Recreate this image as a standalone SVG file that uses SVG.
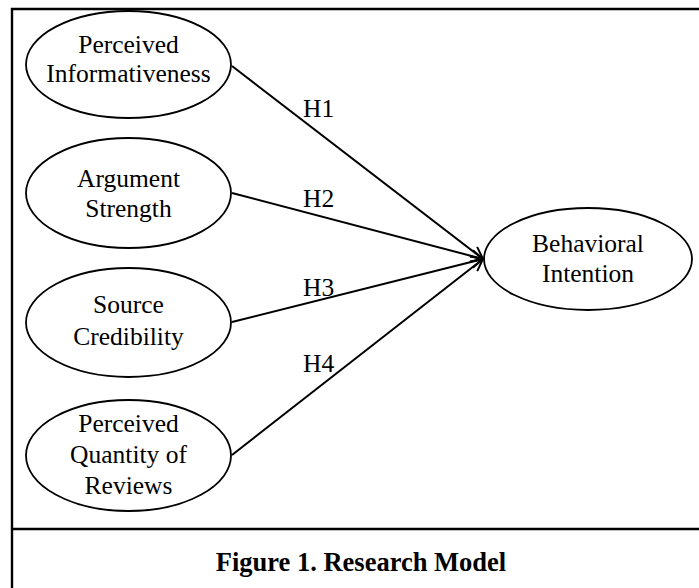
<svg xmlns="http://www.w3.org/2000/svg" width="699" height="588" viewBox="0 0 699 588">
<style>
.node ellipse{fill:#fff;stroke:#000;stroke-width:1.8}
.lbl{font-family:"Liberation Serif","Times New Roman",serif;font-size:25.5px;fill:#000;text-anchor:middle}
.h{font-family:"Liberation Serif","Times New Roman",serif;font-size:25.5px;fill:#000}
.cap{font-family:"Liberation Serif","Times New Roman",serif;font-size:26.5px;font-weight:bold;fill:#000;text-anchor:middle}
.edge{stroke:#000;stroke-width:2;fill:none;marker-end:url(#arr)}
.frame{stroke:#000;stroke-width:2.4;fill:none}
</style>
<defs>
<marker id="arr" markerUnits="userSpaceOnUse" markerWidth="14" markerHeight="14" viewBox="0 0 14 14" refX="13" refY="7" orient="auto">
<path d="M1,1 L13,7 L1,13" fill="none" stroke="#000" stroke-width="2"/>
</marker>
</defs>
<rect width="699" height="588" fill="#fff"/>
<g id="frame">
<path class="frame" d="M12,600 L12,9 L710,9"/>
<line class="frame" x1="12" y1="529" x2="710" y2="529"/>
</g>
<g id="connectors">
<line class="edge" x1="232" y1="66" x2="483" y2="259"/>
<line class="edge" x1="232" y1="193" x2="483" y2="259"/>
<line class="edge" x1="232" y1="322" x2="483" y2="259"/>
<line class="edge" x1="232" y1="455" x2="483" y2="259"/>
<text class="h" x="303" y="117">H1</text>
<text class="h" x="303" y="207">H2</text>
<text class="h" x="303" y="296">H3</text>
<text class="h" x="303" y="372">H4</text>
</g>
<g id="n1" class="node">
<ellipse cx="128.5" cy="64.5" rx="102.5" ry="53.5"/>
<text class="lbl" x="128.5" y="53">Perceived</text>
<text class="lbl" x="128.5" y="82">Informativeness</text>
</g>
<g id="n2" class="node">
<ellipse cx="128.5" cy="193" rx="102.5" ry="55"/>
<text class="lbl" x="128.5" y="187">Argument</text>
<text class="lbl" x="128.5" y="217">Strength</text>
</g>
<g id="n3" class="node">
<ellipse cx="128.5" cy="322.5" rx="102.5" ry="54.5"/>
<text class="lbl" x="128.5" y="313">Source</text>
<text class="lbl" x="128.5" y="345">Credibility</text>
</g>
<g id="n4" class="node">
<ellipse cx="128.5" cy="455.5" rx="102.5" ry="55.5"/>
<text class="lbl" x="128.5" y="432">Perceived</text>
<text class="lbl" x="128.5" y="463">Quantity of</text>
<text class="lbl" x="128.5" y="494">Reviews</text>
</g>
<g id="n5" class="node">
<ellipse cx="588" cy="259" rx="104" ry="51"/>
<text class="lbl" x="588" y="252">Behavioral</text>
<text class="lbl" x="588" y="282">Intention</text>
</g>
<g id="caption">
<text class="cap" x="361" y="571">Figure 1. Research Model</text>
</g>
</svg>
